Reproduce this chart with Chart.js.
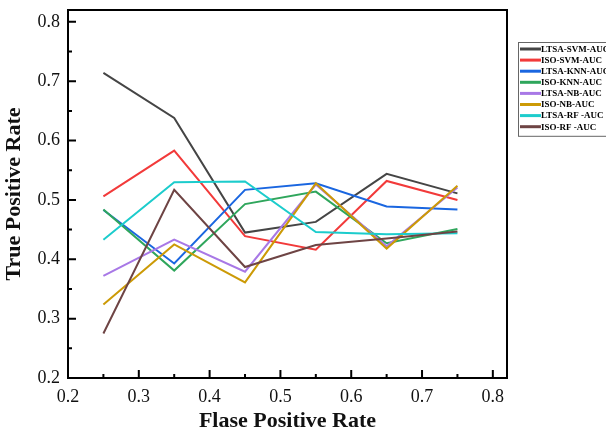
<!DOCTYPE html>
<html>
<head>
<meta charset="utf-8">
<script src="https://cdn.jsdelivr.net/npm/chart.js@4"></script>
<style>
  html, body { margin: 0; padding: 0; background: #fff; }
  #wrap { width: 606px; height: 435px; }
</style>
</head>
<body>
<div id="wrap"><canvas id="rocChart" width="606" height="435"></canvas></div>
<script>
// x positions (false positive rate)
const fpr = [0.25, 0.35, 0.45, 0.55, 0.65, 0.75];

// series values
const ltsaSvm = [0.714, 0.638, 0.445, 0.463, 0.544, 0.511];
const isoSvm  = [0.506, 0.583, 0.439, 0.416, 0.532, 0.500];
const ltsaKnn = [0.483, 0.393, 0.517, 0.528, 0.489, 0.484];
const isoKnn  = [0.484, 0.381, 0.493, 0.514, 0.427, 0.451];
const ltsaNb  = [0.372, 0.433, 0.379, 0.526, 0.422, 0.521];
const isoNb   = [0.324, 0.425, 0.361, 0.528, 0.418, 0.524];
const ltsaRf  = [0.433, 0.530, 0.531, 0.446, 0.442, 0.444];
const isoRf   = [0.275, 0.517, 0.387, 0.424, 0.435, 0.447];

const seriesNames = ["LTSA-SVM-AUC", "ISO-SVM-AUC", "LTSA-KNN-AUC", "ISO-KNN-AUC",
                     "LTSA-NB-AUC", "ISO-NB-AUC", "LTSA-RF -AUC", "ISO-RF -AUC"];
const seriesValues = [ltsaSvm, isoSvm, ltsaKnn, isoKnn, ltsaNb, isoNb, ltsaRf, isoRf];
const seriesColors = ["#454545", "#f23a3a", "#1a66e0", "#2fa65c",
                      "#a878e6", "#cc9a06", "#1ccccc", "#6e4444"];

// axis ticks
const xTicks = [0.2, 0.3, 0.4, 0.5, 0.6, 0.7, 0.8];
const yTicks = [0.2, 0.3, 0.4, 0.5, 0.6, 0.7, 0.8];
const xMinor = [0.25, 0.35, 0.45, 0.55, 0.65, 0.75];
const yMinor = [0.25, 0.35, 0.45, 0.55, 0.65, 0.75];

const serif = "'Liberation Serif', 'Times New Roman', serif";

// frame + inward ticks
const framePlugin = {
  id: "frame",
  afterDatasetsDraw(chart) {
    const { ctx, chartArea: a, scales } = chart;
    ctx.save();
    ctx.strokeStyle = "#000";
    ctx.lineWidth = 2;
    ctx.strokeRect(a.left, a.top, a.right - a.left, a.bottom - a.top);
    ctx.beginPath();
    xTicks.forEach(v => {
      const px = scales.x.getPixelForValue(v);
      ctx.moveTo(px, a.bottom); ctx.lineTo(px, a.bottom - 8);
    });
    xMinor.forEach(v => {
      const px = scales.x.getPixelForValue(v);
      ctx.moveTo(px, a.bottom); ctx.lineTo(px, a.bottom - 4);
    });
    yTicks.forEach(v => {
      const py = scales.y.getPixelForValue(v);
      ctx.moveTo(a.left, py); ctx.lineTo(a.left + 8, py);
    });
    yMinor.forEach(v => {
      const py = scales.y.getPixelForValue(v);
      ctx.moveTo(a.left, py); ctx.lineTo(a.left + 4, py);
    });
    ctx.stroke();
    ctx.restore();
  }
};

// legend box outside the plot, right side
const legendPlugin = {
  id: "sideLegend",
  afterDraw(chart) {
    const ctx = chart.ctx;
    const x0 = 518, y0 = 42, rowH = 11.1;
    ctx.save();
    ctx.strokeStyle = "#666";
    ctx.lineWidth = 1;
    ctx.strokeRect(x0 + 0.5, y0 + 0.5, 100, chart.data.datasets.length * rowH + 5);
    ctx.font = "bold 9px " + serif;
    ctx.textBaseline = "middle";
    chart.data.datasets.forEach((ds, i) => {
      const y = y0 + 7 + i * rowH;
      ctx.strokeStyle = ds.borderColor;
      ctx.lineWidth = 3;
      ctx.beginPath();
      ctx.moveTo(x0 + 2, y); ctx.lineTo(x0 + 23, y);
      ctx.stroke();
      ctx.fillStyle = "#000";
      ctx.fillText(ds.label, x0 + 23, y + 0.5);
    });
    ctx.restore();
  }
};

const datasets = seriesNames.map((name, i) => ({
  label: name,
  data: fpr.map((x, j) => ({ x: x, y: seriesValues[i][j] })),
  borderColor: seriesColors[i],
  backgroundColor: seriesColors[i],
  borderWidth: 2,
  pointRadius: 0,
  tension: 0,
  order: seriesNames.length - i
}));

new Chart(document.getElementById("rocChart").getContext("2d"), {
  type: "line",
  data: { datasets: datasets },
  plugins: [framePlugin, legendPlugin],
  options: {
    responsive: false,
    animation: false,
    layout: { padding: { top: 0, right: 99, bottom: 0, left: 0 } },
    plugins: {
      legend: { display: false },
      tooltip: { enabled: false }
    },
    scales: {
      x: {
        type: "linear",
        min: 0.2,
        max: 0.82,
        afterBuildTicks: s => { s.ticks = xTicks.map(v => ({ value: v })); },
        afterFit: s => { s.height = 57; },
        grid: { display: false, drawTicks: false },
        border: { display: false },
        ticks: {
          padding: 8,
          color: "#111",
          font: { family: serif, size: 18 },
          callback: v => v.toFixed(1)
        },
        title: {
          display: true,
          text: "Flase Positive Rate",
          color: "#111",
          font: { family: serif, size: 22, weight: "bold" },
          padding: { top: 0, bottom: 0 }
        }
      },
      y: {
        type: "linear",
        min: 0.2,
        max: 0.82,
        afterBuildTicks: s => { s.ticks = yTicks.map(v => ({ value: v })); },
        afterFit: s => { s.width = 68; s.paddingTop = 10; },
        grid: { display: false, drawTicks: false },
        border: { display: false },
        ticks: {
          padding: 8,
          color: "#111",
          font: { family: serif, size: 18 },
          callback: v => v.toFixed(1)
        },
        title: {
          display: true,
          text: "True Positive Rate",
          color: "#111",
          font: { family: serif, size: 22, weight: "bold" },
          padding: { top: 1, bottom: 0 }
        }
      }
    }
  }
});
</script>
</body>
</html>
